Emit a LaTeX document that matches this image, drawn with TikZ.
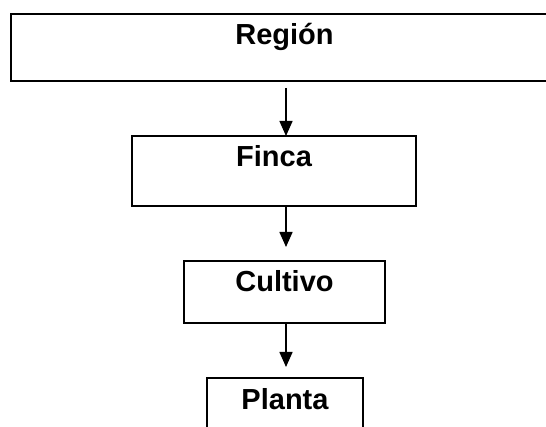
\documentclass[tikz,border=0pt]{standalone}
\usepackage{fontspec}
\setmainfont{Liberation Sans}
\usetikzlibrary{arrows.meta}

\tikzset{
	level/.style={draw, line width=2.2pt, inner sep=0pt, outer sep=0pt, anchor=north,
		font=\fontsize{29}{33}\selectfont\bfseries, text height=31pt},
	down/.style={-{Triangle[width=13pt,length=15pt]}, line width=1.5pt}
}

\begin{document}
\begin{tikzpicture}[x=1pt,y=-1pt]
		\clip (0,0) rectangle (546,427);
		\useasboundingbox (0,0) rectangle (546,427);
		\coordinate (axis) at (286,0);
		\node[level, minimum width=547pt, text depth=36pt] (region) at (284.5,14) {Región};
		\node[level, minimum width=284pt, text depth=39pt] (finca) at (274,136) {Finca};
		\node[level, minimum width=201pt, text depth=31pt] (cultivo) at (284.5,261) {Cultivo};
		\node[level, minimum width=156pt, text depth=45pt] (planta) at (285,378) {Planta};
		\draw[down, shorten <=7pt] (region.south -| axis) -- (finca.north -| axis);
		\draw[down, shorten >=14pt] (finca.south -| axis) -- (cultivo.north -| axis);
		\draw[down, shorten >=11pt] (cultivo.south -| axis) -- (planta.north -| axis);
	\end{tikzpicture}
\end{document}
